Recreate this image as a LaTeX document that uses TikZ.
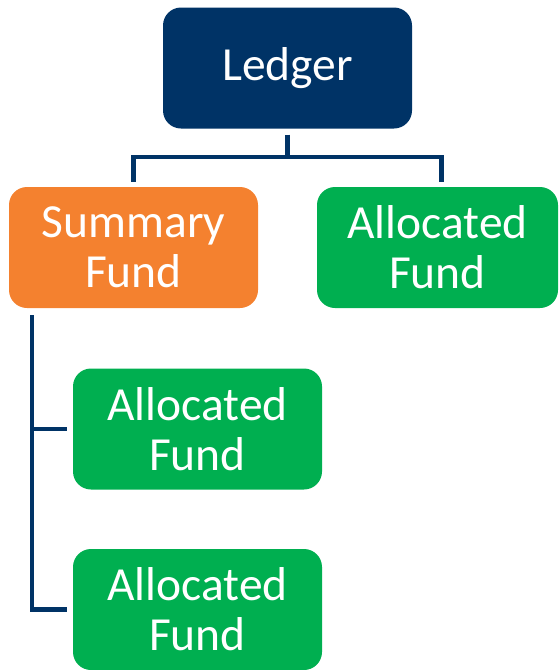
\documentclass[tikz,border=0pt]{standalone}
\usepackage{fontspec}
\setmainfont{Carlito}
\usepackage{tikz}

\definecolor{ledgerblue}{HTML}{003366}
\definecolor{summaryorange}{HTML}{F4812F}
\definecolor{fundgreen}{HTML}{00AF50}

\begin{document}
\begin{tikzpicture}[x = 1pt, y = -1pt,
        box/.style = {rounded corners = 18pt, minimum width = 249pt, minimum height = 121pt,
            inner sep = 0pt, text = white, align = center, font = \fontsize{47.5}{50}\selectfont},
        link/.style = {draw = ledgerblue, line width = 4.5pt}]
        \useasboundingbox (0, 0) rectangle (560, 670);

        \begin{scope}[every node/.style = box]
            \node[fill = ledgerblue] (ledger) at (287.5, 68) {Ledger};
            \node[fill = summaryorange] (summary) at (133.5, 247.5) {Summary\\Fund};
            \node[fill = fundgreen, minimum width = 241pt] (allocA) at (437.5, 247.5) {Allocated\\Fund};
            \node[fill = fundgreen] (allocB) at (197.5, 429) {Allocated\\Fund};
            \node[fill = fundgreen] (allocC) at (197.5, 609.5) {Allocated\\Fund};
        \end{scope}

        \coordinate (split) at (287.5, 157);
        \coordinate (trunk) at ([xshift = 23pt]summary.south west);

        \begin{scope}[link]
            \draw[shorten < = 6pt] (ledger.south) -- (split);
            \draw[shorten > = 5pt] (split) -| (summary.north);
            \draw[shorten > = 5pt] (split) -| ([xshift = 4pt]allocA.north);
            \draw[shorten < = 7pt, shorten > = 6pt] (trunk) |- (allocB.west);
            \draw[shorten < = 7pt, shorten > = 6pt] (trunk) |- (allocC.west);
        \end{scope}
    \end{tikzpicture}
\end{document}
